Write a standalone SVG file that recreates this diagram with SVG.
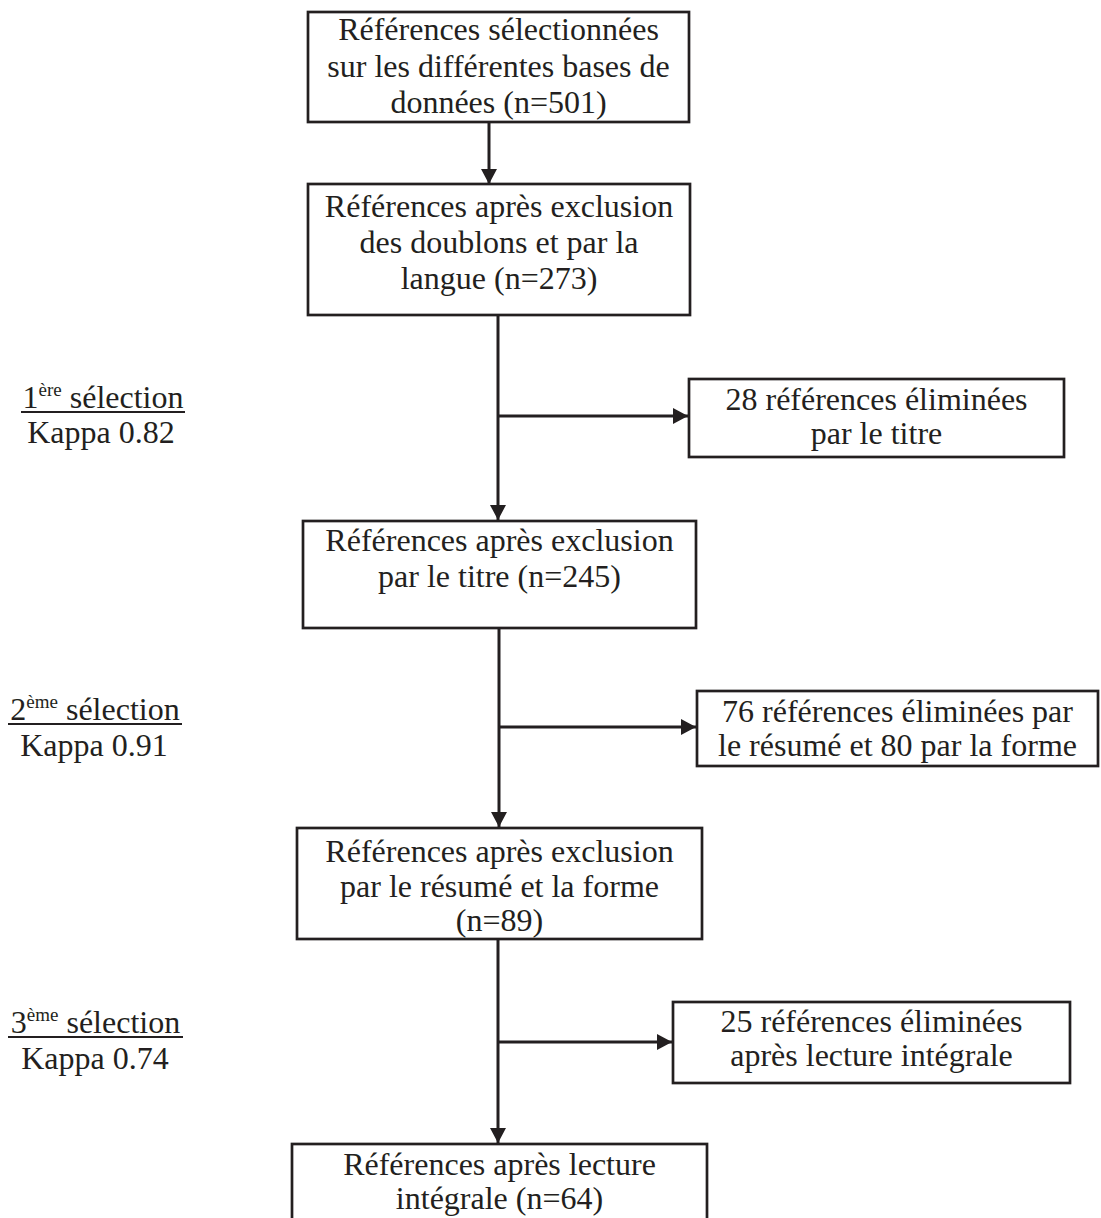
<svg xmlns="http://www.w3.org/2000/svg" width="1101" height="1218" viewBox="0 0 1101 1218">
<style>
.box{fill:#fff;stroke:#231f20;stroke-width:2.7}
.t{font-family:"Liberation Serif","Times New Roman",serif;font-size:32px;fill:#231f20;text-anchor:middle}
.sup{font-size:19px}
.c{stroke:#231f20;stroke-width:3;fill:none}
.u{stroke:#231f20;stroke-width:2}
</style>
<defs>
<marker id="ah" markerUnits="userSpaceOnUse" markerWidth="17" markerHeight="17" viewBox="0 0 17 17" refX="15" refY="8.5" orient="auto">
<path d="M0,0.5 L15,8.5 L0,16.5 Z" fill="#231f20"/>
</marker>
</defs>
<rect width="1101" height="1218" fill="#fff"/>
<g id="connectors">
<line class="c" x1="489" y1="122" x2="489" y2="184" marker-end="url(#ah)"/>
<line class="c" x1="498" y1="315" x2="498" y2="520" marker-end="url(#ah)"/>
<line class="c" x1="498" y1="416" x2="688" y2="416" marker-end="url(#ah)"/>
<line class="c" x1="499" y1="628" x2="499" y2="827" marker-end="url(#ah)"/>
<line class="c" x1="499" y1="727" x2="696" y2="727" marker-end="url(#ah)"/>
<line class="c" x1="498" y1="939" x2="498" y2="1143" marker-end="url(#ah)"/>
<line class="c" x1="498" y1="1042" x2="672" y2="1042" marker-end="url(#ah)"/>
</g>
<g id="n1">
<rect class="box" x="308" y="12" width="381" height="110"/>
<text class="t" x="498.5" y="40">Références sélectionnées</text>
<text class="t" x="498.5" y="77">sur les différentes bases de</text>
<text class="t" x="498.5" y="113">données (n=501)</text>
</g>
<g id="n2">
<rect class="box" x="308" y="184" width="382" height="131"/>
<text class="t" x="499" y="217">Références après exclusion</text>
<text class="t" x="499" y="253">des doublons et par la</text>
<text class="t" x="499" y="289">langue (n=273)</text>
</g>
<g id="e1">
<rect class="box" x="689" y="379" width="375" height="78"/>
<text class="t" x="876.5" y="410">28 références éliminées</text>
<text class="t" x="876.5" y="444">par le titre</text>
</g>
<g id="n3">
<rect class="box" x="303" y="521" width="393" height="107"/>
<text class="t" x="499.5" y="551">Références après exclusion</text>
<text class="t" x="499.5" y="587">par le titre (n=245)</text>
</g>
<g id="e2">
<rect class="box" x="697" y="691" width="401" height="75"/>
<text class="t" x="897.5" y="722">76 références éliminées par</text>
<text class="t" x="897.5" y="756">le résumé et 80 par la forme</text>
</g>
<g id="n4">
<rect class="box" x="297" y="828" width="405" height="111"/>
<text class="t" x="499.5" y="862">Références après exclusion</text>
<text class="t" x="499.5" y="897">par le résumé et la forme</text>
<text class="t" x="499.5" y="931">(n=89)</text>
</g>
<g id="e3">
<rect class="box" x="673" y="1002" width="397" height="81"/>
<text class="t" x="871.5" y="1032">25 références éliminées</text>
<text class="t" x="871.5" y="1066">après lecture intégrale</text>
</g>
<g id="n5">
<rect class="box" x="292" y="1144" width="415" height="90"/>
<text class="t" x="499.5" y="1175">Références après lecture</text>
<text class="t" x="499.5" y="1209">intégrale (n=64)</text>
</g>
<g id="s1">
<text class="t" x="103" y="408">1<tspan class="sup" dy="-12">ère</tspan><tspan dy="12"> sélection</tspan></text>
<line class="u" x1="21" y1="412" x2="185" y2="412"/>
<text class="t" x="101" y="443">Kappa 0.82</text>
</g>
<g id="s2">
<text class="t" x="95" y="720">2<tspan class="sup" dy="-12">ème</tspan><tspan dy="12"> sélection</tspan></text>
<line class="u" x1="8" y1="724" x2="182" y2="724"/>
<text class="t" x="94" y="756">Kappa 0.91</text>
</g>
<g id="s3">
<text class="t" x="95.5" y="1033">3<tspan class="sup" dy="-12">ème</tspan><tspan dy="12"> sélection</tspan></text>
<line class="u" x1="8" y1="1037" x2="183" y2="1037"/>
<text class="t" x="95" y="1069">Kappa 0.74</text>
</g>
</svg>
